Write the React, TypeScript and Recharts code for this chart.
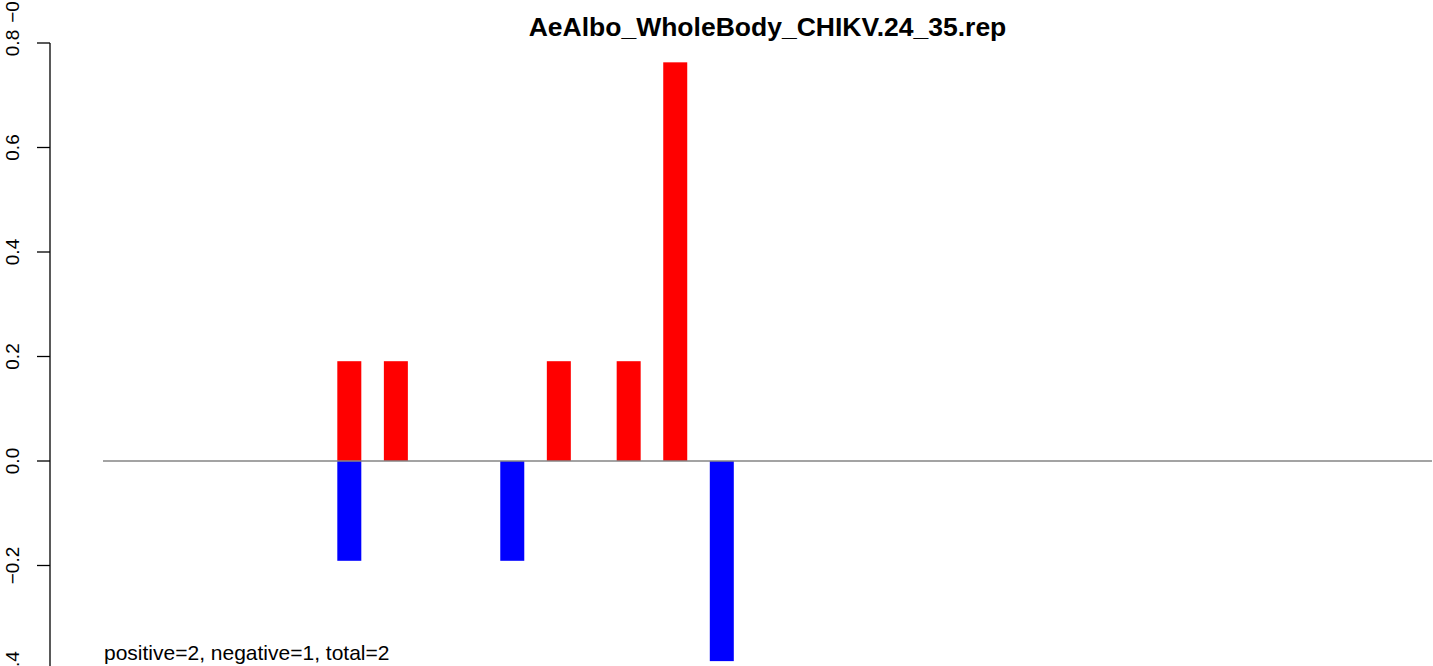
import { BarChart, Bar, XAxis, YAxis, ReferenceLine } from 'recharts'

// slot index along the x axis, value above and below zero
const SLOT_COUNT = 57
const slots = [10, 12, 17, 19, 22, 24, 26]
const positive = [0.191, 0.191, 0, 0.191, 0.191, 0.763, 0]
const negative = [-0.191, 0, -0.191, 0, 0, 0, -0.383]
const yTicks = [-0.4, -0.2, 0, 0.2, 0.4, 0.6, 0.8]
const title = 'AeAlbo_WholeBody_CHIKV.24_35.rep'
const footnote = 'positive=2, negative=1, total=2'

const data = Array.from({ length: SLOT_COUNT }, (_, i) => {
  const k = slots.indexOf(i)
  return { slot: i, pos: k >= 0 ? positive[k] : 0, neg: k >= 0 ? negative[k] : 0 }
})

const FONT = '"Liberation Sans", Arial, sans-serif'
const BAR_W = 24

function fmt(v: number) {
  const s = Math.abs(v).toFixed(1)
  return v < 0 ? `\u2212${s}` : s
}

function YTick({ y, payload }: { y?: number; payload?: { value: number } }) {
  if (y == null || !payload) return null
  return (
    <text x={19} y={y} transform={`rotate(-90, 19, ${y})`} textAnchor="middle" fontSize={19} fontFamily={FONT} fill="#000">
      {fmt(payload.value)}
    </text>
  )
}

// keep recharts' x/y/height, just widen around the band centre
function WideBar(props: any) {
  const { x, y, width, height, fill } = props
  if (!height) return null
  const cx = x + width / 2
  const top = Math.min(y, y + height)
  return <rect x={cx - BAR_W / 2} y={top} width={BAR_W} height={Math.abs(height)} fill={fill} />
}

export default function App() {
  return (
    <div style={{ position: 'fixed', left: 0, top: 0, width: 1433, height: 666, overflow: 'hidden', background: '#fff' }}>
      <BarChart width={1433} height={680} data={data} stackOffset="sign" barCategoryGap={0} margin={{ top: 43, right: 1, left: 0, bottom: 10 }}>
        <XAxis dataKey="slot" hide padding={{ left: 55, right: 0 }} />
        <XAxis
          xAxisId="line"
          dataKey="slot"
          type="number"
          domain={[0, SLOT_COUNT]}
          allowDataOverflow
          hide
          padding={{ left: 53, right: 0 }}
        />
        <YAxis
          width={50}
          domain={[-0.4, 0.8]}
          ticks={yTicks}
          allowDataOverflow
          tickSize={13}
          axisLine={{ stroke: '#000', strokeWidth: 1.3 }}
          tickLine={{ stroke: '#000', strokeWidth: 1.3 }}
          tick={<YTick />}
        />
        <ReferenceLine
          xAxisId="line"
          segment={[{ x: 0, y: 0 }, { x: SLOT_COUNT, y: 0 }]}
          ifOverflow="visible"
          stroke="#858585"
          strokeWidth={1.4}
        />
        <Bar dataKey="pos" stackId="a" fill="#ff0000" shape={WideBar} isAnimationActive={false} />
        <Bar dataKey="neg" stackId="a" fill="#0000ff" shape={WideBar} isAnimationActive={false} />
      </BarChart>
      <div style={{ position: 'absolute', left: 0, top: 0, width: 1433, height: 666, pointerEvents: 'none' }}>
        <svg width={1433} height={666} style={{ position: 'absolute', left: 0, top: 0 }}>
          <text x={767.5} y={36} textAnchor="middle" fontSize={26.5} fontWeight="bold" fontFamily={FONT} fill="#000">
            {title}
          </text>
          <text x={104} y={660} fontSize={21} fontFamily={FONT} fill="#000">
            {footnote}
          </text>
          <text x={19} y={4} transform="rotate(-90, 19, 4)" textAnchor="middle" fontSize={19} fontFamily={FONT} fill="#000">
            {fmt(-0.4)}
          </text>
        </svg>
      </div>
    </div>
  )
}
